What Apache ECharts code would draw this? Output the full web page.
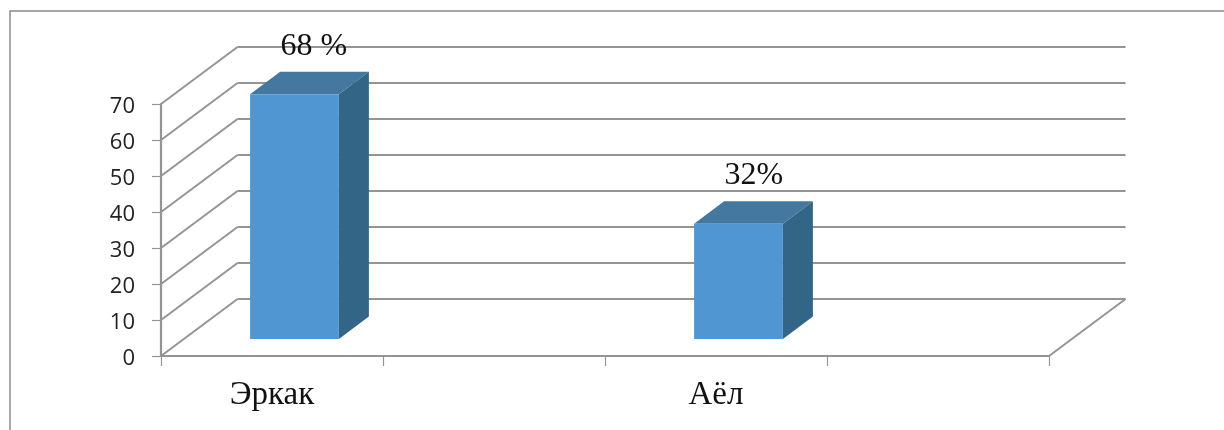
<!DOCTYPE html>
<html>
<head>
<meta charset="utf-8">
<style>html,body{margin:0;padding:0;background:#fff}#c{width:1224px;height:430px}</style>
<script src="https://cdn.jsdelivr.net/npm/echarts@6/dist/echarts.min.js"></script>
</head>
<body>
<div id="c"></div>
<script>
const categories = ['Эркак', '', 'Аёл', ''];
const barIndexes = [0, 2];
const barValues = [68, 32];
const barLabels = ['68 %', '32%'];
const yTicks = [0, 10, 20, 30, 40, 50, 60, 70];

const LINE = '#949494';
const FRONT = '#5096D2', TOP = '#44789F', SIDE = '#336587';
const WALL_DX = 76.5, WALL_DY = -57;
const BAR_DX = 22.5, BAR_DY = -17, DEPTH_DX = 30, DEPTH_DY = -22.5;

const chart = echarts.init(document.getElementById('c'), null, {renderer: 'canvas'});

function wallItem(params, api) {
  const v = api.value(0);
  const y = api.coord([0, v])[1];
  const x0 = params.coordSys.x;
  const x1 = x0 + params.coordSys.width;
  const children = [
    {type: 'line', shape: {x1: x0, y1: y, x2: x0 + WALL_DX, y2: y + WALL_DY},
     style: {stroke: LINE, lineWidth: 2}},
    {type: 'line', shape: {x1: x0 + WALL_DX, y1: y + WALL_DY, x2: x1 + WALL_DX, y2: y + WALL_DY},
     style: {stroke: LINE, lineWidth: 2.2}}
  ];
  if (v === 0) {
    children.push({type: 'line', shape: {x1: x1, y1: y, x2: x1 + WALL_DX, y2: y + WALL_DY},
      style: {stroke: LINE, lineWidth: 2}});
  }
  return {type: 'group', children};
}

function barItem(params, api) {
  const base = api.coord([api.value(0), 0]);
  const top = api.coord([api.value(0), api.value(1)]);
  const w = api.size([1, 0])[0] * 0.4;
  const l = base[0] + BAR_DX - w / 2, r = l + w;
  const yb = base[1] + BAR_DY, yt = top[1] + BAR_DY;
  return {type: 'group', children: [
    {type: 'polygon', shape: {points: [[l, yt], [l + DEPTH_DX, yt + DEPTH_DY], [r + DEPTH_DX, yt + DEPTH_DY], [r, yt]]},
     style: {fill: TOP}},
    {type: 'polygon', shape: {points: [[r, yt], [r + DEPTH_DX, yt + DEPTH_DY], [r + DEPTH_DX, yb + DEPTH_DY], [r, yb]]},
     style: {fill: SIDE}},
    {type: 'rect', shape: {x: l, y: yt, width: w, height: yb - yt}, style: {fill: FRONT}},
    {type: 'text', x: l + 30.5, y: yt - 48,
     style: {text: barLabels[params.dataIndex], fill: '#111', textAlign: 'left', textVerticalAlign: 'middle',
              font: '32px "Liberation Serif"'}}
  ]};
}

chart.setOption({
  animation: false,
  backgroundColor: '#fff',
  grid: {left: 161, width: 888, top: 104, height: 252, containLabel: false},
  graphic: [{type: 'polyline', silent: true, shape: {points: [[10, 430], [10, 11], [1224, 11]]},
             style: {stroke: '#8a8a8a', lineWidth: 1.5, fill: 'none'}}],
  xAxis: {
    type: 'category', data: categories, boundaryGap: true,
    axisLine: {lineStyle: {color: LINE, width: 2.2}},
    axisTick: {show: true, length: 10, interval: 0, lineStyle: {color: LINE, width: 1.2}},
    axisLabel: {interval: 0, margin: 23, color: '#111', fontFamily: 'Liberation Serif', fontSize: 33},
    splitLine: {show: false}
  },
  yAxis: {
    type: 'value', min: 0, max: 70, interval: 10,
    axisLine: {show: true, lineStyle: {color: LINE, width: 2.2}},
    axisTick: {show: true, length: 9, lineStyle: {color: LINE, width: 1.2}},
    axisLabel: {margin: 26, color: '#222', fontFamily: 'Open Sans', fontSize: 22, verticalAlign: 'top', lineHeight: 5},
    splitLine: {show: false}
  },
  series: [
    {type: 'custom', renderItem: wallItem, data: yTicks.map(v => [v]), encode: {y: 0}, silent: true, z: 1, clip: false},
    {type: 'custom', renderItem: barItem, data: barIndexes.map((c, i) => [c, barValues[i]]), encode: {x: 0, y: 1}, silent: true, z: 2, clip: false}
  ]
});
</script>
</body>
</html>
